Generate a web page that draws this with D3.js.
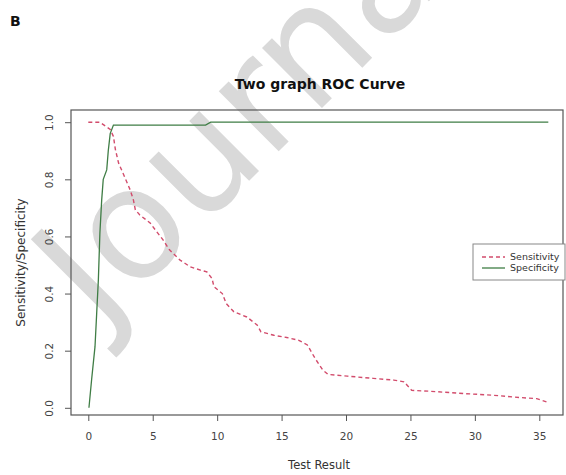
<!DOCTYPE html>
<html>
<head>
<meta charset="utf-8">
<script src="https://cdn.jsdelivr.net/npm/d3@7"></script>
<style>
  body { margin: 0; background: #fff; }
  svg { display: block; }
  text { font-family: "DejaVu Sans", sans-serif; fill: #333; }
</style>
</head>
<body>
<svg id="chart" width="566" height="475"></svg>
<script>
// ----------------------------
// Data
// ----------------------------
const sensX = [0, 0.9, 1.7, 1.95, 2.1, 2.35, 2.85, 3.25, 3.5, 3.65, 4.0, 4.8, 5.3, 5.8, 6.3, 7.1, 7.9, 8.7, 9.2,
               9.6, 9.75, 10.4, 10.7, 11.3, 12.3, 13.1, 13.4, 14.4, 15.4, 16.3, 17.0, 17.6, 18.2, 18.6, 20.1,
               22.1, 23.7, 24.5, 25.1, 26.5, 29.1, 31.4, 33.5, 34.8, 35.6];
const sensY = [1.0, 1.0, 0.975, 0.95, 0.905, 0.857, 0.805, 0.763, 0.728, 0.693, 0.675, 0.647, 0.617, 0.588, 0.553,
               0.518, 0.494, 0.482, 0.476, 0.453, 0.424, 0.40, 0.365, 0.336, 0.318, 0.29, 0.266, 0.254, 0.246,
               0.237, 0.22, 0.173, 0.132, 0.117, 0.111, 0.103, 0.097, 0.091, 0.061, 0.058, 0.05, 0.044, 0.036,
               0.032, 0.02];

const specX = [0.05, 0.26, 0.52, 0.65, 0.78, 0.9, 1.04, 1.16, 1.43, 1.55, 1.7, 1.95, 9.1, 9.5, 35.7];
const specY = [0.0, 0.1, 0.214, 0.33, 0.447, 0.612, 0.728, 0.8, 0.833, 0.9, 0.96, 0.99, 0.99, 1.0, 1.0];

const xTicks = [0, 5, 10, 15, 20, 25, 30, 35];
const yTicks = [0.0, 0.2, 0.4, 0.6, 0.8, 1.0];
const legendLabels = ["Sensitivity", "Specificity"];

// ----------------------------
// Plotting
// ----------------------------
const svg = d3.select("#chart");
const box = { left: 71, right: 563, top: 110, bottom: 415 };

const xScale = d3.scaleLinear().domain([0, 35]).range([88.3, 539.3]);
const yScale = d3.scaleLinear().domain([0, 1]).range([407.8, 122.2]);

// watermark, sits behind everything
svg.append("text")
    .attr("transform", "translate(100,330) rotate(-45)")
    .style("font-size", "155px").style("fill", "#d9d9d9")
    .text("Journal");

// panel letter
svg.append("text").attr("x", 10).attr("y", 26)
    .style("font-weight", "bold").style("font-size", "14px").style("fill", "#111")
    .text("B");

// title
svg.append("text").attr("x", 320).attr("y", 89)
    .attr("text-anchor", "middle")
    .style("font-weight", "bold").style("font-size", "14px").style("fill", "#111")
    .text("Two graph ROC Curve");

// plot box
svg.append("rect")
    .attr("x", box.left).attr("y", box.top)
    .attr("width", box.right - box.left).attr("height", box.bottom - box.top)
    .attr("fill", "none").attr("stroke", "#555").attr("stroke-width", 1.2);

// Axes
const xAxis = svg.append("g")
    .attr("transform", `translate(0,${box.bottom})`)
    .call(d3.axisBottom(xScale).tickValues(xTicks).tickSize(6).tickPadding(12));
xAxis.select(".domain").remove();

const yAxis = svg.append("g")
    .attr("transform", `translate(${box.left},0)`)
    .call(d3.axisLeft(yScale).tickValues(yTicks).tickFormat(d3.format(".1f")).tickSize(6));
yAxis.select(".domain").remove();
yAxis.selectAll(".tick text")
    .attr("transform", "rotate(-90)")
    .attr("x", 0).attr("y", -22)
    .attr("dy", "0.35em")
    .attr("text-anchor", "middle");

svg.selectAll(".tick line").attr("stroke", "#555");
svg.selectAll(".tick text").style("font-size", "10.5px").style("font-family", "DejaVu Sans").style("fill", "#444");

// axis labels
svg.append("text").attr("x", 319).attr("y", 469)
    .attr("text-anchor", "middle").style("font-size", "11.5px")
    .text("Test Result");
svg.append("text")
    .attr("transform", `translate(25,${(box.top + box.bottom) / 2}) rotate(-90)`)
    .attr("text-anchor", "middle").style("font-size", "12px")
    .text("Sensitivity/Specificity");

// lines
const lineGen = d3.line()
    .x(d => xScale(d[0]))
    .y(d => yScale(d[1]));

svg.append("path")
    .datum(specX.map((x, i) => [x, specY[i]]))
    .attr("fill", "none")
    .attr("stroke", "#3f7d45")
    .attr("stroke-width", 1.3)
    .attr("d", lineGen);

svg.append("path")
    .datum(sensX.map((x, i) => [x, sensY[i]]))
    .attr("fill", "none")
    .attr("stroke", "#d24c6c")
    .attr("stroke-width", 1.4)
    .attr("stroke-dasharray", "4,3")
    .attr("d", lineGen);

// legend
const lg = svg.append("g");
lg.append("rect").attr("x", 473).attr("y", 244).attr("width", 92).attr("height", 36)
    .attr("fill", "#fff").attr("stroke", "#888");
const legendStyle = [
  { color: "#d24c6c", dash: "4,3" },
  { color: "#3f7d45", dash: null }
];
legendLabels.forEach((lab, i) => {
  const y = 257 + i * 11;
  lg.append("line").attr("x1", 482).attr("x2", 505).attr("y1", y).attr("y2", y)
      .attr("stroke", legendStyle[i].color).attr("stroke-width", 1.3)
      .attr("stroke-dasharray", legendStyle[i].dash);
  lg.append("text").attr("x", 510).attr("y", y).attr("dy", "0.35em")
      .style("font-size", "9.5px").text(lab);
});
</script>
</body>
</html>
